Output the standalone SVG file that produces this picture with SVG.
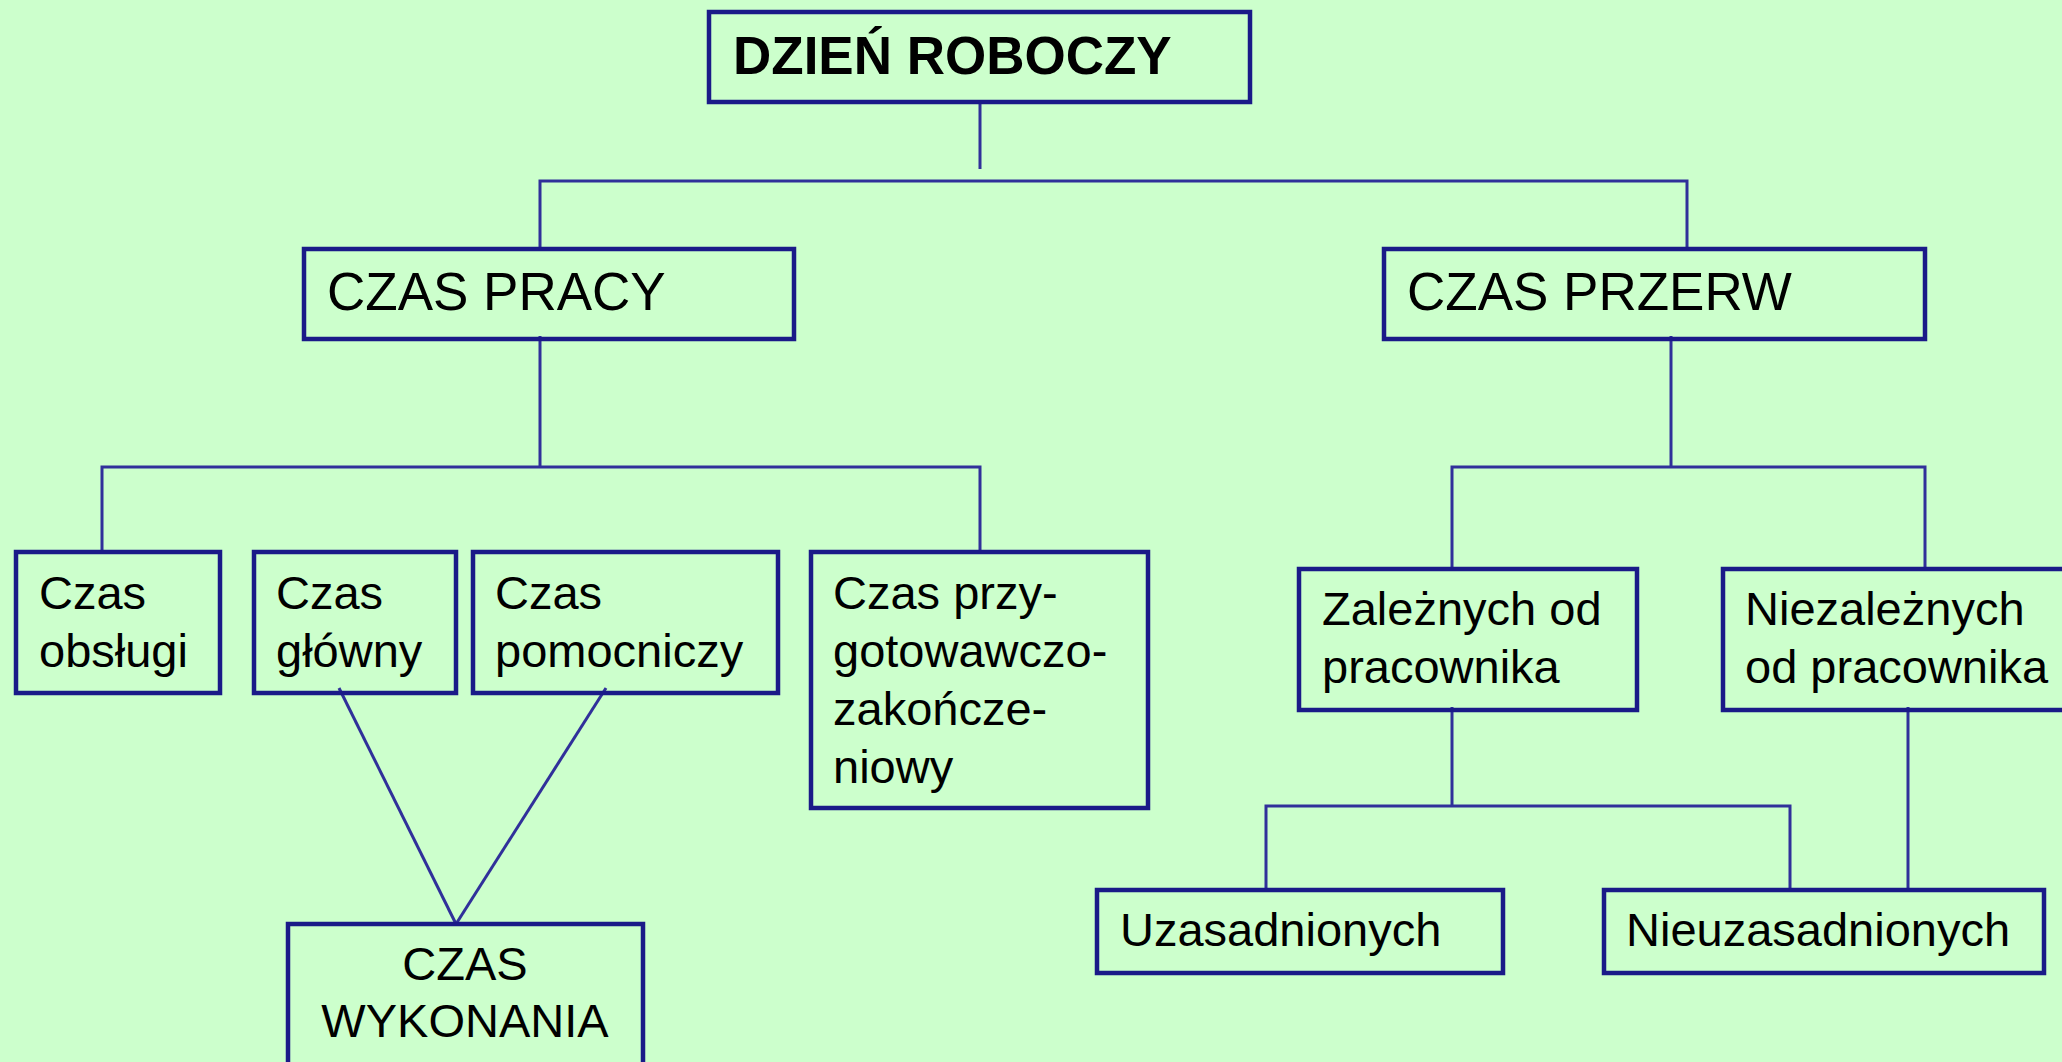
<svg xmlns="http://www.w3.org/2000/svg" width="2062" height="1062" viewBox="0 0 2062 1062">
<style>
.box{fill:none;stroke:#1a1a88;stroke-width:4.5}
.ln{fill:none;stroke:#30309a;stroke-width:3}
text{font-family:"Liberation Sans",Arial,sans-serif;fill:#000}
.t1{font-size:53px;font-weight:bold}
.t2{font-size:53px}
.t3{font-size:47px}
</style>
<rect width="2062" height="1062" fill="#ccffcc"/>
<g id="connectors">
<path class="ln" d="M980 102V169"/>
<path class="ln" d="M540 249V181H1687V249"/>
<path class="ln" d="M540 336V467"/>
<path class="ln" d="M102 552V467H980V552"/>
<path class="ln" d="M1671 336V467"/>
<path class="ln" d="M1452 569V467H1925V569"/>
<path class="ln" d="M339 688L456 924"/>
<path class="ln" d="M606 688L456 924"/>
<path class="ln" d="M1452 707V806"/>
<path class="ln" d="M1266 890V806H1790V890"/>
<path class="ln" d="M1908 707V890"/>
</g>
<g id="dzien"><rect class="box" x="709" y="12" width="541" height="90"/><text class="t1" x="733" y="74">DZIEŃ ROBOCZY</text></g>
<g id="czas-pracy"><rect class="box" x="304" y="249" width="490" height="90"/><text class="t2" x="327" y="310">CZAS PRACY</text></g>
<g id="czas-przerw"><rect class="box" x="1384" y="249" width="541" height="90"/><text class="t2" x="1407" y="310">CZAS PRZERW</text></g>
<g id="obslugi"><rect class="box" x="16" y="552" width="204" height="141"/><text class="t3" x="39" y="609">Czas</text><text class="t3" x="39" y="667">obsługi</text></g>
<g id="glowny"><rect class="box" x="254" y="552" width="202" height="141"/><text class="t3" x="276" y="609">Czas</text><text class="t3" x="276" y="667">główny</text></g>
<g id="pomocniczy"><rect class="box" x="473" y="552" width="305" height="141"/><text class="t3" x="495" y="609">Czas</text><text class="t3" x="495" y="667">pomocniczy</text></g>
<g id="przygotowawczo"><rect class="box" x="811" y="552" width="337" height="256"/><text class="t3" x="833" y="609">Czas przy-</text><text class="t3" x="833" y="667">gotowawczo-</text><text class="t3" x="833" y="725">zakończe-</text><text class="t3" x="833" y="783">niowy</text></g>
<g id="wykonania"><rect class="box" x="288" y="924" width="355" height="160"/><text class="t3" x="465" y="980" text-anchor="middle">CZAS</text><text class="t3" x="465" y="1037" text-anchor="middle">WYKONANIA</text></g>
<g id="zaleznych"><rect class="box" x="1299" y="569" width="338" height="141"/><text class="t3" x="1322" y="625">Zależnych od</text><text class="t3" x="1322" y="683">pracownika</text></g>
<g id="niezaleznych"><rect class="box" x="1723" y="569" width="360" height="141"/><text class="t3" x="1745" y="625">Niezależnych</text><text class="t3" x="1745" y="683">od pracownika</text></g>
<g id="uzasadnionych"><rect class="box" x="1097" y="890" width="406" height="83"/><text class="t3" x="1120" y="946">Uzasadnionych</text></g>
<g id="nieuzasadnionych"><rect class="box" x="1604" y="890" width="440" height="83"/><text class="t3" x="1626" y="946">Nieuzasadnionych</text></g>
</svg>
